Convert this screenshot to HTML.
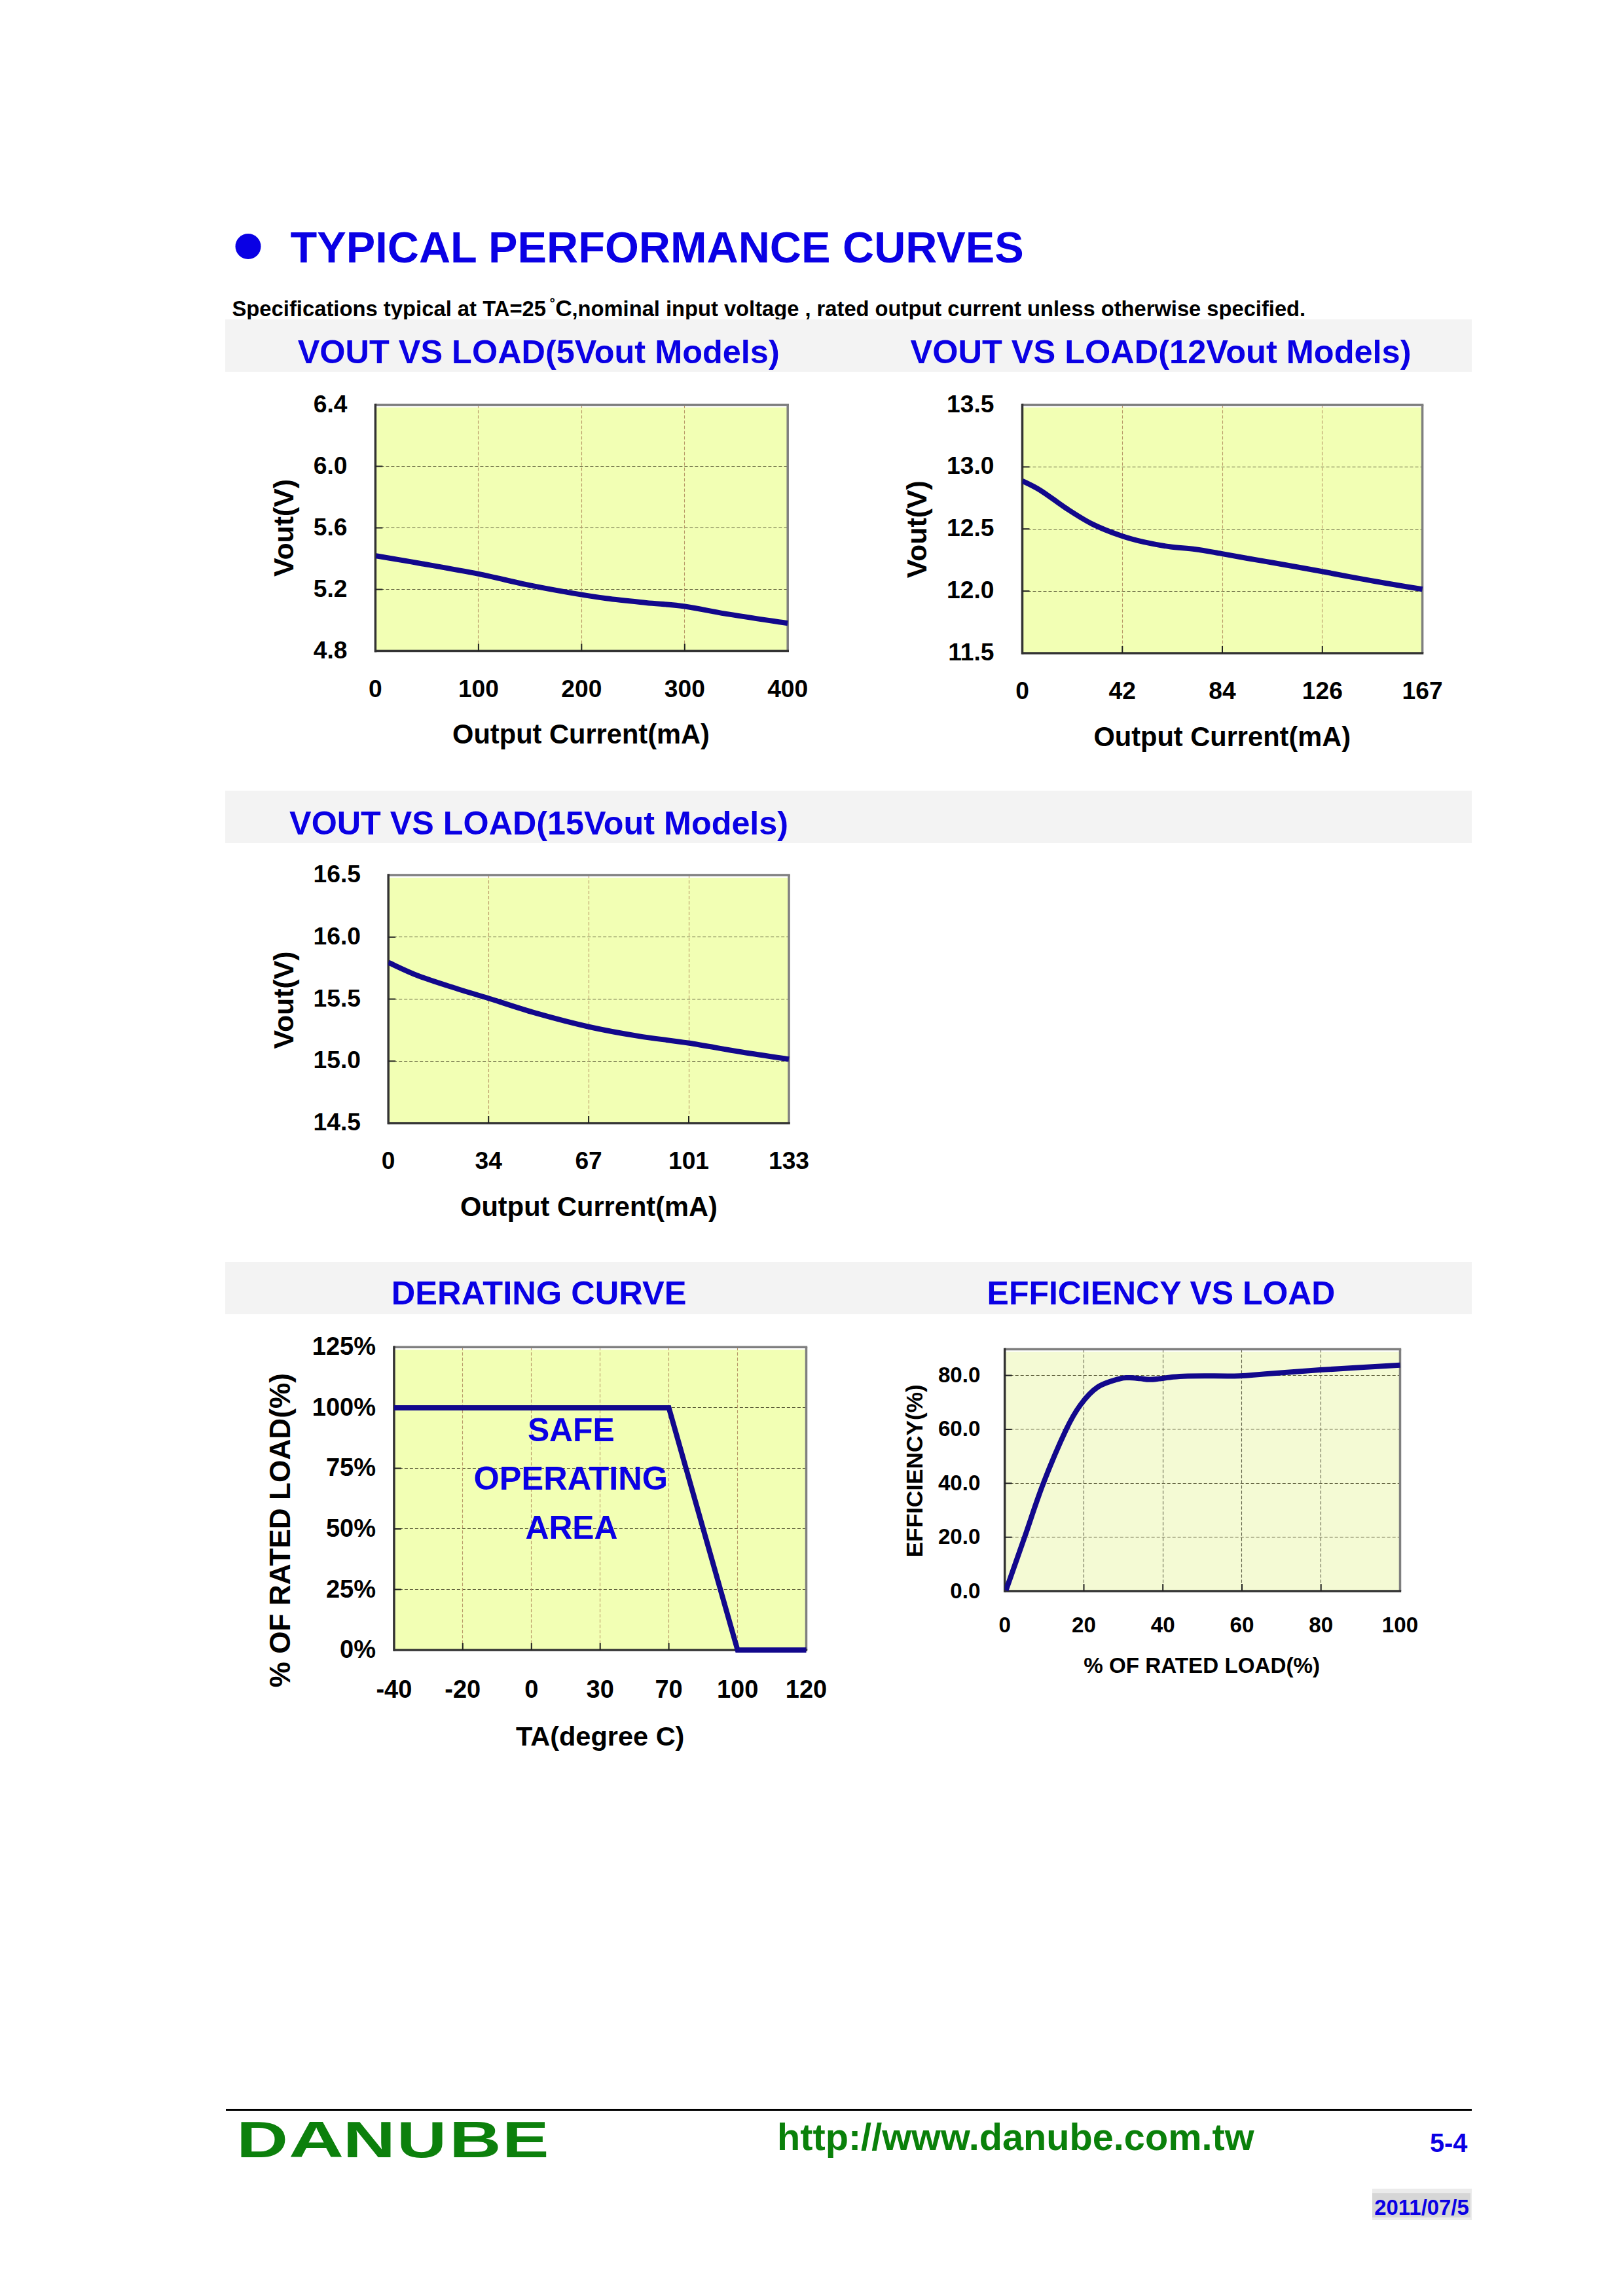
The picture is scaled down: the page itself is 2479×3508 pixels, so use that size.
<!DOCTYPE html><html><head><meta charset="utf-8"><style>html,body{margin:0;padding:0;background:#fff;overflow:hidden;width:2479px;height:3508px} svg{display:block} text{font-family:"Liberation Sans", sans-serif;font-weight:bold}</style></head><body>
<svg width="2479" height="3508" viewBox="0 0 2479 3508">
<rect x="0" y="0" width="2479" height="3508" fill="#fff"/>
<circle cx="379" cy="376.5" r="19.5" fill="#0A00E4"/>
<text x="443.5" y="400.8" font-size="66.7" fill="#0A00E4" text-anchor="start" >TYPICAL PERFORMANCE CURVES</text>
<text x="354.4" y="482.5" font-size="32.8" fill="#000" text-anchor="start" >Specifications typical at TA=25</text>
<text x="840.0" y="475.5" font-size="26" fill="#000" text-anchor="start" >˚</text>
<text x="848.3" y="482.5" font-size="35.5" fill="#000" text-anchor="start" >C</text>
<text x="873.5" y="482.5" font-size="32.7" fill="#000" text-anchor="start" >,nominal input voltage , rated output current unless otherwise specified.</text>
<rect x="344" y="488" width="1904" height="80" fill="#F3F3F3"/>
<rect x="344" y="1208" width="1904" height="80" fill="#F3F3F3"/>
<rect x="344" y="1928" width="1904" height="80" fill="#F3F3F3"/>
<text x="822.7" y="554.8" font-size="50.45" fill="#0A00E4" text-anchor="middle" >VOUT VS LOAD(5Vout Models)</text>
<text x="1773.0" y="554.8" font-size="50.5" fill="#0A00E4" text-anchor="middle" >VOUT VS LOAD(12Vout Models)</text>
<text x="823.1" y="1274.5" font-size="50.3" fill="#0A00E4" text-anchor="middle" >VOUT VS LOAD(15Vout Models)</text>
<text x="823.1" y="1992.5" font-size="50.6" fill="#0A00E4" text-anchor="middle" >DERATING CURVE</text>
<text x="1773.5" y="1992.5" font-size="49.95" fill="#0A00E4" text-anchor="middle" >EFFICIENCY VS LOAD</text>
<rect x="573.4" y="622.5" width="629.8" height="372.1" fill="#F2FFB4"/>
<line x1="573.4" y1="712.5" x2="1203.2" y2="712.5" stroke="#5A5A38" stroke-width="1.1" stroke-dasharray="5 3"/>
<line x1="573.4" y1="806.5" x2="1203.2" y2="806.5" stroke="#5A5A38" stroke-width="1.1" stroke-dasharray="5 3"/>
<line x1="573.4" y1="900.5" x2="1203.2" y2="900.5" stroke="#5A5A38" stroke-width="1.1" stroke-dasharray="5 3"/>
<line x1="730.5" y1="618.5" x2="730.5" y2="994.6" stroke="#B89868" stroke-width="1.1" stroke-dasharray="5 3"/>
<line x1="888.5" y1="618.5" x2="888.5" y2="994.6" stroke="#B89868" stroke-width="1.1" stroke-dasharray="5 3"/>
<line x1="1045.5" y1="618.5" x2="1045.5" y2="994.6" stroke="#B89868" stroke-width="1.1" stroke-dasharray="5 3"/>
<line x1="573.4" y1="618.5" x2="1205.0" y2="618.5" stroke="#7F7F7F" stroke-width="3.5"/>
<line x1="1203.2" y1="618.5" x2="1203.2" y2="994.6" stroke="#7F7F7F" stroke-width="3.5"/>
<line x1="573.4" y1="616.8" x2="573.4" y2="996.4" stroke="#333333" stroke-width="3.5"/>
<line x1="573.4" y1="994.6" x2="1205.0" y2="994.6" stroke="#333333" stroke-width="3.5"/>
<line x1="573.4" y1="712.5" x2="584.4" y2="712.5" stroke="#222" stroke-width="2"/>
<line x1="573.4" y1="806.5" x2="584.4" y2="806.5" stroke="#222" stroke-width="2"/>
<line x1="573.4" y1="900.6" x2="584.4" y2="900.6" stroke="#222" stroke-width="2"/>
<line x1="730.9" y1="994.6" x2="730.9" y2="983.6" stroke="#222" stroke-width="2"/>
<line x1="888.3" y1="994.6" x2="888.3" y2="983.6" stroke="#222" stroke-width="2"/>
<line x1="1045.8" y1="994.6" x2="1045.8" y2="983.6" stroke="#222" stroke-width="2"/>
<clipPath id="cp1"><rect x="573.4" y="608.5" width="631.6" height="396.1"/></clipPath>
<path d="M574.2,849.3 C585.4,851.2 615.2,856.1 641.3,860.7 C667.4,865.3 703.7,871.5 730.8,876.9 C757.9,882.3 781.0,888.5 804.0,893.2 C827.0,898.0 848.8,901.9 869.1,905.4 C889.4,908.9 906.4,911.7 926.0,914.3 C945.6,916.9 967.0,918.9 987.0,920.9 C1007.0,922.9 1025.7,923.7 1046.0,926.5 C1066.3,929.3 1082.8,933.6 1109.0,937.9 C1135.2,942.2 1187.5,949.8 1203.2,952.2" fill="none" stroke="#12088C" stroke-width="8" clip-path="url(#cp1)"/>
<text x="530.5" y="629.5" font-size="37.2" fill="#000" text-anchor="end" >6.4</text>
<text x="530.5" y="723.5" font-size="37.2" fill="#000" text-anchor="end" >6.0</text>
<text x="530.5" y="817.5" font-size="37.2" fill="#000" text-anchor="end" >5.6</text>
<text x="530.5" y="911.6" font-size="37.2" fill="#000" text-anchor="end" >5.2</text>
<text x="530.5" y="1005.6" font-size="37.2" fill="#000" text-anchor="end" >4.8</text>
<text x="573.4" y="1064.5" font-size="37.2" fill="#000" text-anchor="middle" >0</text>
<text x="730.9" y="1064.5" font-size="37.2" fill="#000" text-anchor="middle" >100</text>
<text x="888.3" y="1064.5" font-size="37.2" fill="#000" text-anchor="middle" >200</text>
<text x="1045.8" y="1064.5" font-size="37.2" fill="#000" text-anchor="middle" >300</text>
<text x="1203.2" y="1064.5" font-size="37.2" fill="#000" text-anchor="middle" >400</text>
<text x="0" y="0" font-size="42.8" text-anchor="middle" transform="translate(432.5,806.5) rotate(-90)" dy="15.0">Vout(V)</text>
<text x="887.5" y="1136.0" font-size="41.6" fill="#000" text-anchor="middle" >Output Current(mA)</text>
<rect x="1561.5" y="622.5" width="611.1" height="375.5" fill="#F2FFB4"/>
<line x1="1561.5" y1="713.5" x2="2172.6" y2="713.5" stroke="#5A5A38" stroke-width="1.1" stroke-dasharray="5 3"/>
<line x1="1561.5" y1="808.5" x2="2172.6" y2="808.5" stroke="#5A5A38" stroke-width="1.1" stroke-dasharray="5 3"/>
<line x1="1561.5" y1="903.5" x2="2172.6" y2="903.5" stroke="#5A5A38" stroke-width="1.1" stroke-dasharray="5 3"/>
<line x1="1714.5" y1="618.5" x2="1714.5" y2="998.0" stroke="#B89868" stroke-width="1.1" stroke-dasharray="5 3"/>
<line x1="1867.5" y1="618.5" x2="1867.5" y2="998.0" stroke="#B89868" stroke-width="1.1" stroke-dasharray="5 3"/>
<line x1="2019.5" y1="618.5" x2="2019.5" y2="998.0" stroke="#B89868" stroke-width="1.1" stroke-dasharray="5 3"/>
<line x1="1561.5" y1="618.5" x2="2174.3" y2="618.5" stroke="#7F7F7F" stroke-width="3.5"/>
<line x1="2172.6" y1="618.5" x2="2172.6" y2="998.0" stroke="#7F7F7F" stroke-width="3.5"/>
<line x1="1561.5" y1="616.8" x2="1561.5" y2="999.8" stroke="#333333" stroke-width="3.5"/>
<line x1="1561.5" y1="998.0" x2="2174.3" y2="998.0" stroke="#333333" stroke-width="3.5"/>
<line x1="1561.5" y1="713.4" x2="1572.5" y2="713.4" stroke="#222" stroke-width="2"/>
<line x1="1561.5" y1="808.2" x2="1572.5" y2="808.2" stroke="#222" stroke-width="2"/>
<line x1="1561.5" y1="903.1" x2="1572.5" y2="903.1" stroke="#222" stroke-width="2"/>
<line x1="1714.3" y1="998.0" x2="1714.3" y2="987.0" stroke="#222" stroke-width="2"/>
<line x1="1867.0" y1="998.0" x2="1867.0" y2="987.0" stroke="#222" stroke-width="2"/>
<line x1="2019.8" y1="998.0" x2="2019.8" y2="987.0" stroke="#222" stroke-width="2"/>
<clipPath id="cp2"><rect x="1561.5" y="608.5" width="612.8" height="399.5"/></clipPath>
<path d="M1561.5,734.7 C1566.2,737.1 1578.2,742.3 1589.4,749.3 C1600.6,756.3 1615.8,768.3 1628.9,776.9 C1642.1,785.5 1654.5,793.7 1668.3,800.6 C1682.1,807.5 1698.5,813.7 1711.7,818.3 C1724.9,822.9 1734.7,825.4 1747.2,828.2 C1759.7,831.0 1773.5,833.5 1786.6,835.3 C1799.7,837.1 1812.8,837.4 1826.0,839.2 C1839.2,841.0 1852.3,843.6 1865.5,845.9 C1878.7,848.2 1891.8,850.7 1904.9,853.0 C1918.0,855.3 1931.2,857.4 1944.3,859.7 C1957.4,862.0 1971.0,864.5 1983.8,866.8 C1996.6,869.1 2008.1,871.1 2021.2,873.5 C2034.3,875.9 2049.1,878.9 2062.6,881.4 C2076.1,883.9 2088.8,886.2 2102.0,888.5 C2115.2,890.8 2129.7,893.2 2141.5,895.2 C2153.3,897.2 2167.4,899.4 2172.6,900.3" fill="none" stroke="#12088C" stroke-width="8" clip-path="url(#cp2)"/>
<text x="1518.5" y="629.5" font-size="37.2" fill="#000" text-anchor="end" >13.5</text>
<text x="1518.5" y="724.4" font-size="37.2" fill="#000" text-anchor="end" >13.0</text>
<text x="1518.5" y="819.2" font-size="37.2" fill="#000" text-anchor="end" >12.5</text>
<text x="1518.5" y="914.1" font-size="37.2" fill="#000" text-anchor="end" >12.0</text>
<text x="1518.5" y="1009.0" font-size="37.2" fill="#000" text-anchor="end" >11.5</text>
<text x="1561.5" y="1068.0" font-size="37.2" fill="#000" text-anchor="middle" >0</text>
<text x="1714.3" y="1068.0" font-size="37.2" fill="#000" text-anchor="middle" >42</text>
<text x="1867.0" y="1068.0" font-size="37.2" fill="#000" text-anchor="middle" >84</text>
<text x="2019.8" y="1068.0" font-size="37.2" fill="#000" text-anchor="middle" >126</text>
<text x="2172.6" y="1068.0" font-size="37.2" fill="#000" text-anchor="middle" >167</text>
<text x="0" y="0" font-size="42.8" text-anchor="middle" transform="translate(1400.2,808.8) rotate(-90)" dy="15.0">Vout(V)</text>
<text x="1866.8" y="1140.0" font-size="41.6" fill="#000" text-anchor="middle" >Output Current(mA)</text>
<rect x="593.2" y="1341.1" width="611.8" height="374.9" fill="#F2FFB4"/>
<line x1="593.2" y1="1431.5" x2="1205.0" y2="1431.5" stroke="#5A5A38" stroke-width="1.1" stroke-dasharray="5 3"/>
<line x1="593.2" y1="1526.5" x2="1205.0" y2="1526.5" stroke="#5A5A38" stroke-width="1.1" stroke-dasharray="5 3"/>
<line x1="593.2" y1="1621.5" x2="1205.0" y2="1621.5" stroke="#5A5A38" stroke-width="1.1" stroke-dasharray="5 3"/>
<line x1="746.5" y1="1337.1" x2="746.5" y2="1716.0" stroke="#B89868" stroke-width="1.1" stroke-dasharray="5 3"/>
<line x1="899.5" y1="1337.1" x2="899.5" y2="1716.0" stroke="#B89868" stroke-width="1.1" stroke-dasharray="5 3"/>
<line x1="1052.5" y1="1337.1" x2="1052.5" y2="1716.0" stroke="#B89868" stroke-width="1.1" stroke-dasharray="5 3"/>
<line x1="593.2" y1="1337.1" x2="1206.8" y2="1337.1" stroke="#7F7F7F" stroke-width="3.5"/>
<line x1="1205.0" y1="1337.1" x2="1205.0" y2="1716.0" stroke="#7F7F7F" stroke-width="3.5"/>
<line x1="593.2" y1="1335.3" x2="593.2" y2="1717.8" stroke="#333333" stroke-width="3.5"/>
<line x1="593.2" y1="1716.0" x2="1206.8" y2="1716.0" stroke="#333333" stroke-width="3.5"/>
<line x1="593.2" y1="1431.8" x2="604.2" y2="1431.8" stroke="#222" stroke-width="2"/>
<line x1="593.2" y1="1526.5" x2="604.2" y2="1526.5" stroke="#222" stroke-width="2"/>
<line x1="593.2" y1="1621.3" x2="604.2" y2="1621.3" stroke="#222" stroke-width="2"/>
<line x1="746.2" y1="1716.0" x2="746.2" y2="1705.0" stroke="#222" stroke-width="2"/>
<line x1="899.1" y1="1716.0" x2="899.1" y2="1705.0" stroke="#222" stroke-width="2"/>
<line x1="1052.0" y1="1716.0" x2="1052.0" y2="1705.0" stroke="#222" stroke-width="2"/>
<clipPath id="cp3"><rect x="593.2" y="1327.1" width="613.5" height="398.9"/></clipPath>
<path d="M593.2,1470.5 C600.9,1473.9 621.6,1484.3 639.1,1491.0 C656.6,1497.7 680.2,1504.9 698.3,1510.7 C716.4,1516.5 727.9,1519.6 747.6,1525.7 C767.3,1531.8 791.2,1540.2 816.6,1547.4 C842.0,1554.6 873.9,1563.1 900.2,1569.0 C926.5,1574.9 949.1,1578.8 974.3,1582.9 C999.5,1587.0 1024.9,1589.4 1051.2,1593.5 C1077.5,1597.6 1106.4,1603.2 1132.0,1607.3 C1157.6,1611.4 1192.8,1616.5 1205.0,1618.3" fill="none" stroke="#12088C" stroke-width="8" clip-path="url(#cp3)"/>
<text x="551.0" y="1348.1" font-size="37.2" fill="#000" text-anchor="end" >16.5</text>
<text x="551.0" y="1442.8" font-size="37.2" fill="#000" text-anchor="end" >16.0</text>
<text x="551.0" y="1537.5" font-size="37.2" fill="#000" text-anchor="end" >15.5</text>
<text x="551.0" y="1632.3" font-size="37.2" fill="#000" text-anchor="end" >15.0</text>
<text x="551.0" y="1727.0" font-size="37.2" fill="#000" text-anchor="end" >14.5</text>
<text x="593.2" y="1786.0" font-size="37.2" fill="#000" text-anchor="middle" >0</text>
<text x="746.2" y="1786.0" font-size="37.2" fill="#000" text-anchor="middle" >34</text>
<text x="899.1" y="1786.0" font-size="37.2" fill="#000" text-anchor="middle" >67</text>
<text x="1052.0" y="1786.0" font-size="37.2" fill="#000" text-anchor="middle" >101</text>
<text x="1205.0" y="1786.0" font-size="37.2" fill="#000" text-anchor="middle" >133</text>
<text x="0" y="0" font-size="42.8" text-anchor="middle" transform="translate(432.5,1528.0) rotate(-90)" dy="15.0">Vout(V)</text>
<text x="899.5" y="1857.5" font-size="41.6" fill="#000" text-anchor="middle" >Output Current(mA)</text>
<rect x="601.9" y="2062.3" width="629.6" height="458.8" fill="#F2FFB4"/>
<line x1="601.9" y1="2150.5" x2="1231.5" y2="2150.5" stroke="#5A5A38" stroke-width="1.1" stroke-dasharray="5 3"/>
<line x1="601.9" y1="2243.5" x2="1231.5" y2="2243.5" stroke="#5A5A38" stroke-width="1.1" stroke-dasharray="5 3"/>
<line x1="601.9" y1="2335.5" x2="1231.5" y2="2335.5" stroke="#5A5A38" stroke-width="1.1" stroke-dasharray="5 3"/>
<line x1="601.9" y1="2428.5" x2="1231.5" y2="2428.5" stroke="#5A5A38" stroke-width="1.1" stroke-dasharray="5 3"/>
<line x1="706.5" y1="2058.3" x2="706.5" y2="2521.1" stroke="#B89868" stroke-width="1.1" stroke-dasharray="5 3"/>
<line x1="811.5" y1="2058.3" x2="811.5" y2="2521.1" stroke="#B89868" stroke-width="1.1" stroke-dasharray="5 3"/>
<line x1="916.5" y1="2058.3" x2="916.5" y2="2521.1" stroke="#B89868" stroke-width="1.1" stroke-dasharray="5 3"/>
<line x1="1021.5" y1="2058.3" x2="1021.5" y2="2521.1" stroke="#B89868" stroke-width="1.1" stroke-dasharray="5 3"/>
<line x1="1126.5" y1="2058.3" x2="1126.5" y2="2521.1" stroke="#B89868" stroke-width="1.1" stroke-dasharray="5 3"/>
<line x1="601.9" y1="2058.3" x2="1233.2" y2="2058.3" stroke="#7F7F7F" stroke-width="3.5"/>
<line x1="1231.5" y1="2058.3" x2="1231.5" y2="2521.1" stroke="#7F7F7F" stroke-width="3.5"/>
<line x1="601.9" y1="2056.6" x2="601.9" y2="2522.8" stroke="#333333" stroke-width="3.5"/>
<line x1="601.9" y1="2521.1" x2="1233.2" y2="2521.1" stroke="#333333" stroke-width="3.5"/>
<line x1="601.9" y1="2150.9" x2="612.9" y2="2150.9" stroke="#222" stroke-width="2"/>
<line x1="601.9" y1="2243.4" x2="612.9" y2="2243.4" stroke="#222" stroke-width="2"/>
<line x1="601.9" y1="2336.0" x2="612.9" y2="2336.0" stroke="#222" stroke-width="2"/>
<line x1="601.9" y1="2428.5" x2="612.9" y2="2428.5" stroke="#222" stroke-width="2"/>
<line x1="706.8" y1="2521.1" x2="706.8" y2="2510.1" stroke="#222" stroke-width="2"/>
<line x1="811.8" y1="2521.1" x2="811.8" y2="2510.1" stroke="#222" stroke-width="2"/>
<line x1="916.7" y1="2521.1" x2="916.7" y2="2510.1" stroke="#222" stroke-width="2"/>
<line x1="1021.6" y1="2521.1" x2="1021.6" y2="2510.1" stroke="#222" stroke-width="2"/>
<line x1="1126.6" y1="2521.1" x2="1126.6" y2="2510.1" stroke="#222" stroke-width="2"/>
<clipPath id="cp4"><rect x="601.9" y="2048.3" width="631.4" height="482.8"/></clipPath>
<path d="M601.9,2150.9 L1021.6,2150.9 L1126.6,2521.1 L1231.5,2521.1" fill="none" stroke="#12088C" stroke-width="8" stroke-linejoin="miter"/>
<text x="574.0" y="2070.3" font-size="38" fill="#000" text-anchor="end" >125%</text>
<text x="574.0" y="2162.9" font-size="38" fill="#000" text-anchor="end" >100%</text>
<text x="574.0" y="2255.4" font-size="38" fill="#000" text-anchor="end" >75%</text>
<text x="574.0" y="2348.0" font-size="38" fill="#000" text-anchor="end" >50%</text>
<text x="574.0" y="2440.5" font-size="38" fill="#000" text-anchor="end" >25%</text>
<text x="574.0" y="2533.1" font-size="38" fill="#000" text-anchor="end" >0%</text>
<text x="601.9" y="2594.0" font-size="38" fill="#000" text-anchor="middle" >-40</text>
<text x="706.8" y="2594.0" font-size="38" fill="#000" text-anchor="middle" >-20</text>
<text x="811.8" y="2594.0" font-size="38" fill="#000" text-anchor="middle" >0</text>
<text x="916.7" y="2594.0" font-size="38" fill="#000" text-anchor="middle" >30</text>
<text x="1021.6" y="2594.0" font-size="38" fill="#000" text-anchor="middle" >70</text>
<text x="1126.6" y="2594.0" font-size="38" fill="#000" text-anchor="middle" >100</text>
<text x="1231.5" y="2594.0" font-size="38" fill="#000" text-anchor="middle" >120</text>
<text x="0" y="0" font-size="44.2" text-anchor="middle" transform="translate(427.6,2338.2) rotate(-90)" dy="15.5">% OF RATED LOAD(%)</text>
<text x="916.7" y="2667.0" font-size="41.5" fill="#000" text-anchor="middle" >TA(degree C)</text>
<text x="872.3" y="2201.5" font-size="49.8" fill="#0A00E4" text-anchor="middle" >SAFE</text>
<text x="871.8" y="2276.0" font-size="50.5" fill="#0A00E4" text-anchor="middle" >OPERATING</text>
<text x="873.0" y="2351.3" font-size="49.8" fill="#0A00E4" text-anchor="middle" >AREA</text>
<rect x="1534.7" y="2065.4" width="603.8" height="365.7" fill="#F4FAD4"/>
<line x1="1534.7" y1="2348.5" x2="2138.5" y2="2348.5" stroke="#5A5A38" stroke-width="1.1" stroke-dasharray="5 3"/>
<line x1="1534.7" y1="2266.5" x2="2138.5" y2="2266.5" stroke="#5A5A38" stroke-width="1.1" stroke-dasharray="5 3"/>
<line x1="1534.7" y1="2183.5" x2="2138.5" y2="2183.5" stroke="#5A5A38" stroke-width="1.1" stroke-dasharray="5 3"/>
<line x1="1534.7" y1="2101.5" x2="2138.5" y2="2101.5" stroke="#5A5A38" stroke-width="1.1" stroke-dasharray="5 3"/>
<line x1="1655.5" y1="2061.4" x2="1655.5" y2="2431.1" stroke="#606048" stroke-width="1.1" stroke-dasharray="5 3"/>
<line x1="1776.5" y1="2061.4" x2="1776.5" y2="2431.1" stroke="#606048" stroke-width="1.1" stroke-dasharray="5 3"/>
<line x1="1896.5" y1="2061.4" x2="1896.5" y2="2431.1" stroke="#606048" stroke-width="1.1" stroke-dasharray="5 3"/>
<line x1="2017.5" y1="2061.4" x2="2017.5" y2="2431.1" stroke="#606048" stroke-width="1.1" stroke-dasharray="5 3"/>
<line x1="1534.7" y1="2061.4" x2="2140.2" y2="2061.4" stroke="#7F7F7F" stroke-width="3.5"/>
<line x1="2138.5" y1="2061.4" x2="2138.5" y2="2431.1" stroke="#7F7F7F" stroke-width="3.5"/>
<line x1="1534.7" y1="2059.7" x2="1534.7" y2="2432.8" stroke="#333333" stroke-width="3.5"/>
<line x1="1534.7" y1="2431.1" x2="2140.2" y2="2431.1" stroke="#333333" stroke-width="3.5"/>
<line x1="1534.7" y1="2348.7" x2="1545.7" y2="2348.7" stroke="#222" stroke-width="2"/>
<line x1="1534.7" y1="2266.3" x2="1545.7" y2="2266.3" stroke="#222" stroke-width="2"/>
<line x1="1534.7" y1="2183.9" x2="1545.7" y2="2183.9" stroke="#222" stroke-width="2"/>
<line x1="1534.7" y1="2101.5" x2="1545.7" y2="2101.5" stroke="#222" stroke-width="2"/>
<line x1="1655.5" y1="2431.1" x2="1655.5" y2="2420.1" stroke="#222" stroke-width="2"/>
<line x1="1776.2" y1="2431.1" x2="1776.2" y2="2420.1" stroke="#222" stroke-width="2"/>
<line x1="1897.0" y1="2431.1" x2="1897.0" y2="2420.1" stroke="#222" stroke-width="2"/>
<line x1="2017.7" y1="2431.1" x2="2017.7" y2="2420.1" stroke="#222" stroke-width="2"/>
<clipPath id="cp5"><rect x="1534.7" y="2051.4" width="605.5" height="389.7"/></clipPath>
<path d="M1536.5,2430.0 C1541.3,2416.4 1555.6,2375.4 1565.1,2348.2 C1574.6,2321.0 1583.0,2293.8 1593.5,2266.6 C1604.0,2239.4 1618.6,2205.0 1628.1,2185.0 C1637.6,2165.0 1642.2,2157.5 1650.3,2146.5 C1658.4,2135.5 1666.8,2125.9 1676.9,2119.2 C1687.0,2112.5 1702.8,2108.7 1710.9,2106.3 C1719.0,2104.0 1720.5,2105.1 1725.7,2105.1 C1730.9,2105.1 1737.1,2105.9 1742.0,2106.3 C1746.9,2106.8 1750.6,2107.8 1755.3,2107.8 C1760.0,2107.9 1763.9,2107.3 1770.1,2106.6 C1776.2,2105.9 1784.8,2104.4 1792.2,2103.7 C1799.6,2103.0 1806.4,2102.7 1814.4,2102.4 C1822.4,2102.2 1826.9,2102.2 1840.0,2102.2 C1853.1,2102.2 1877.7,2102.7 1893.1,2102.2 C1908.5,2101.7 1912.0,2100.8 1932.5,2099.3 C1953.0,2097.8 1982.0,2095.4 2016.3,2093.1 C2050.6,2090.8 2118.1,2086.9 2138.5,2085.7" fill="none" stroke="#12088C" stroke-width="8" clip-path="url(#cp5)"/>
<text x="1497.5" y="2441.6" font-size="33.2" fill="#000" text-anchor="end" >0.0</text>
<text x="1497.5" y="2359.2" font-size="33.2" fill="#000" text-anchor="end" >20.0</text>
<text x="1497.5" y="2276.8" font-size="33.2" fill="#000" text-anchor="end" >40.0</text>
<text x="1497.5" y="2194.4" font-size="33.2" fill="#000" text-anchor="end" >60.0</text>
<text x="1497.5" y="2112.0" font-size="33.2" fill="#000" text-anchor="end" >80.0</text>
<text x="1534.7" y="2494.0" font-size="33.2" fill="#000" text-anchor="middle" >0</text>
<text x="1655.5" y="2494.0" font-size="33.2" fill="#000" text-anchor="middle" >20</text>
<text x="1776.2" y="2494.0" font-size="33.2" fill="#000" text-anchor="middle" >40</text>
<text x="1897.0" y="2494.0" font-size="33.2" fill="#000" text-anchor="middle" >60</text>
<text x="2017.7" y="2494.0" font-size="33.2" fill="#000" text-anchor="middle" >80</text>
<text x="2138.5" y="2494.0" font-size="33.2" fill="#000" text-anchor="middle" >100</text>
<text x="0" y="0" font-size="35.2" text-anchor="middle" transform="translate(1396.2,2247.3) rotate(-90)" dy="12.3">EFFICIENCY(%)</text>
<text x="1835.7" y="2556.0" font-size="33.2" fill="#000" text-anchor="middle" >% OF RATED LOAD(%)</text>
<rect x="345" y="3222" width="1903" height="3" fill="#000"/>
<text x="0" y="0" font-size="77.0" fill="#0C800C" transform="translate(361.31,3296) scale(1.4148,1)">D</text>
<text x="0" y="0" font-size="77.0" fill="#0C800C" transform="translate(441.00,3296) scale(1.5132,1)">A</text>
<text x="0" y="0" font-size="77.0" fill="#0C800C" transform="translate(523.77,3296) scale(1.4420,1)">N</text>
<text x="0" y="0" font-size="77.0" fill="#0C800C" transform="translate(606.21,3296) scale(1.3613,1)">U</text>
<text x="0" y="0" font-size="77.0" fill="#0C800C" transform="translate(686.15,3296) scale(1.4262,1)">B</text>
<text x="0" y="0" font-size="77.0" fill="#0C800C" transform="translate(767.27,3296) scale(1.3842,1)">E</text>
<text x="1187.0" y="3284.5" font-size="57.7" fill="#0A800A" text-anchor="start" >http://www.danube.com.tw</text>
<text x="2241.5" y="3288.0" font-size="39.8" fill="#0A00E4" text-anchor="end" >5-4</text>
<rect x="2096" y="3344" width="152" height="48" fill="#EBEBEB"/>
<rect x="2096" y="3351" width="150" height="37" fill="#D6D6D6"/>
<text x="2243.8" y="3383.8" font-size="32.9" fill="#0A00E4" text-anchor="end" >2011/07/5</text>
</svg></body></html>
